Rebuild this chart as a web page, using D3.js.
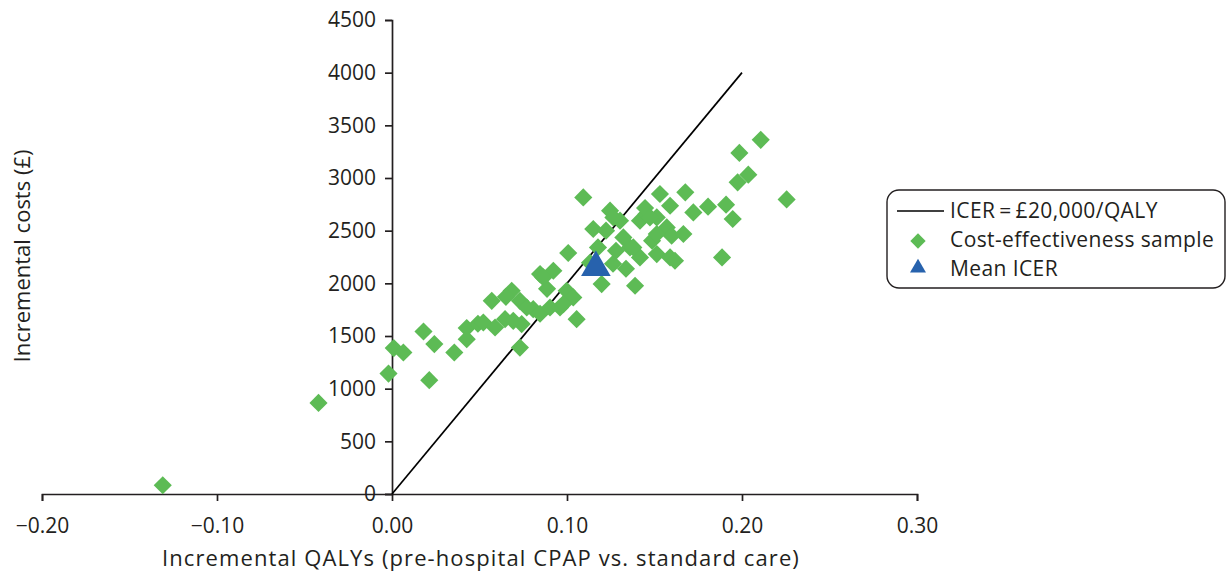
<!DOCTYPE html>
<head>
  <meta charset="utf-8">
  <script src="https://d3js.org/d3.v7.min.js"></script>
  <style>
    body { margin: 0; background: #ffffff; }
    text { font-family: "Open Sans", sans-serif; fill: #231f20; }
  </style>
</head>
<body>
<script>

  // incremental QALYs / incremental costs for each sample
  var sampleQaly = [-0.131, -0.042, -0.002, 0.001, 0.0065, 0.018, 0.0213, 0.0242, 0.0356, 0.0427,
    0.0427, 0.0491, 0.0522, 0.057, 0.0589, 0.0646, 0.0684, 0.0731, 0.0731, 0.0741,
    0.0807, 0.0846, 0.0846, 0.0903, 0.0922, 0.096, 0.0998, 0.1007, 0.1055, 0.1093,
    0.115, 0.1177, 0.1198, 0.1246, 0.1263, 0.1303, 0.1322, 0.136, 0.1389, 0.1417,
    0.1417, 0.1455, 0.1513, 0.1513, 0.1531, 0.157, 0.1589, 0.1589, 0.1598, 0.1617,
    0.1665, 0.1676, 0.1722, 0.1806, 0.1886, 0.1909, 0.1947, 0.1975, 0.1985, 0.2036,
    0.2107, 0.2255, 0.0886, 0.1223, 0.1486, 0.128, 0.1337, 0.1131, 0.0651,
    0.1265, 0.1446, 0.1379, 0.1513, 0.1474, 0.0865, 0.1036, 0.0979, 0.077, 0.0693];
  var sampleCost = [83, 865, 1143, 1385, 1343, 1543, 1081, 1423, 1343, 1575,
    1470, 1616, 1628, 1834, 1581, 1660, 1929, 1834, 1390, 1613,
    1755, 2088, 1711, 1771, 2119, 1771, 1929, 2288, 1660, 2816,
    2516, 2341, 1993, 2690, 2186, 2595, 2436, 2341, 1977, 2595,
    2246, 2658, 2626, 2278, 2848, 2531, 2737, 2246, 2452, 2214,
    2468, 2864, 2673, 2728, 2246, 2747, 2611, 2959, 3238, 3032,
    3362, 2797, 1948, 2500, 2405, 2309, 2138, 2195, 1872,
    2626, 2715, 2341, 2468, 2626, 2056, 1866, 1803, 1771, 1644];

  var meanIcer = [0.1165, 2150];
  var thresholdLine = [[0, 0], [0.2, 4000]];

  var xTicks = [-0.2, -0.1, 0, 0.1, 0.2, 0.3];
  var yTicks = [0, 500, 1000, 1500, 2000, 2500, 3000, 3500, 4000, 4500];

  var legendLabels = ["ICER\u2009=\u2009£20,000/QALY", "Cost-effectiveness sample", "Mean ICER"];

  var w = 1227, h = 574;
  var green = "#5dbb55", blue = "#2762ad", ink = "#231f20";

  var svg = d3.select("body").append("svg")
    .attr("width", w)
    .attr("height", h);

  var x = d3.scaleLinear().domain([-0.2, 0.3]).range([42, 917]);
  var y = d3.scaleLinear().domain([0, 4500]).range([494, 20]);

  // axes cross at zero
  var xAxis = svg.append("g")
    .attr("transform", "translate(0," + y(0) + ")")
    .call(d3.axisBottom(x).tickValues(xTicks).tickSize(7).tickPadding(17)
      .tickFormat(function(d) { return d3.format(".2f")(d).replace("-", "\u2013"); }));

  var yAxis = svg.append("g")
    .attr("transform", "translate(" + x(0) + ",0)")
    .call(d3.axisLeft(y).tickValues(yTicks).tickSize(7).tickPadding(9).tickFormat(d3.format("d")));

  [xAxis, yAxis].forEach(function(g) {
    g.select(".domain").attr("stroke", ink).attr("stroke-width", 1.7);
    g.selectAll(".tick line").attr("stroke", ink).attr("stroke-width", 1.7);
    g.selectAll(".tick text").style("font-size", "21px").attr("fill", ink);
  });

  svg.append("path")
    .attr("d", d3.line().x(function(d) { return x(d[0]); }).y(function(d) { return y(d[1]); })(thresholdLine))
    .attr("stroke", "#000")
    .attr("stroke-width", 1.7)
    .attr("fill", "none");

  var diamond = d3.symbol().type(d3.symbolDiamond2).size(210);

  svg.selectAll("path.sample")
    .data(d3.range(sampleQaly.length))
    .enter()
    .append("path")
    .attr("class", "sample")
    .attr("d", diamond)
    .attr("transform", function(i) { return "translate(" + x(sampleQaly[i]) + "," + y(sampleCost[i]) + ")"; })
    .attr("fill", green);

  svg.append("path")
    .attr("d", d3.symbol().type(d3.symbolTriangle).size(380))
    .attr("transform", "translate(" + x(meanIcer[0]) + "," + y(meanIcer[1]) + ")")
    .attr("fill", blue);

  // axis titles
  svg.append("text")
    .attr("x", 481)
    .attr("y", 566)
    .attr("text-anchor", "middle")
    .style("font-size", "22px")
    .style("letter-spacing", "1.1px")
    .text("Incremental QALYs (pre-hospital CPAP vs. standard care)");

  svg.append("text")
    .attr("transform", "translate(30,256) rotate(-90)")
    .attr("text-anchor", "middle")
    .style("font-size", "22px")
    .text("Incremental costs (£)");

  // legend
  var legend = svg.append("g").attr("transform", "translate(887,190)");
  legend.append("rect")
    .attr("x", 0).attr("y", 0)
    .attr("width", 338).attr("height", 98)
    .attr("rx", 12)
    .attr("fill", "#fff")
    .attr("stroke", ink)
    .attr("stroke-width", 1.4);

  legend.append("line")
    .attr("x1", 10).attr("x2", 57)
    .attr("y1", 21).attr("y2", 21)
    .attr("stroke", "#000").attr("stroke-width", 1.6);
  legend.append("path")
    .attr("d", d3.symbol().type(d3.symbolDiamond2).size(150))
    .attr("transform", "translate(31,51)")
    .attr("fill", green);
  legend.append("path")
    .attr("d", d3.symbol().type(d3.symbolTriangle).size(110))
    .attr("transform", "translate(31,78)")
    .attr("fill", blue);

  legend.selectAll("text.lab")
    .data(legendLabels)
    .enter()
    .append("text")
    .attr("class", "lab")
    .attr("x", 63)
    .attr("y", function(d, i) { return 21 + i * 29; })
    .attr("dy", "0.35em")
    .style("font-size", "21px")
    .style("letter-spacing", "0.4px")
    .text(function(d) { return d; });
</script>
</body>
